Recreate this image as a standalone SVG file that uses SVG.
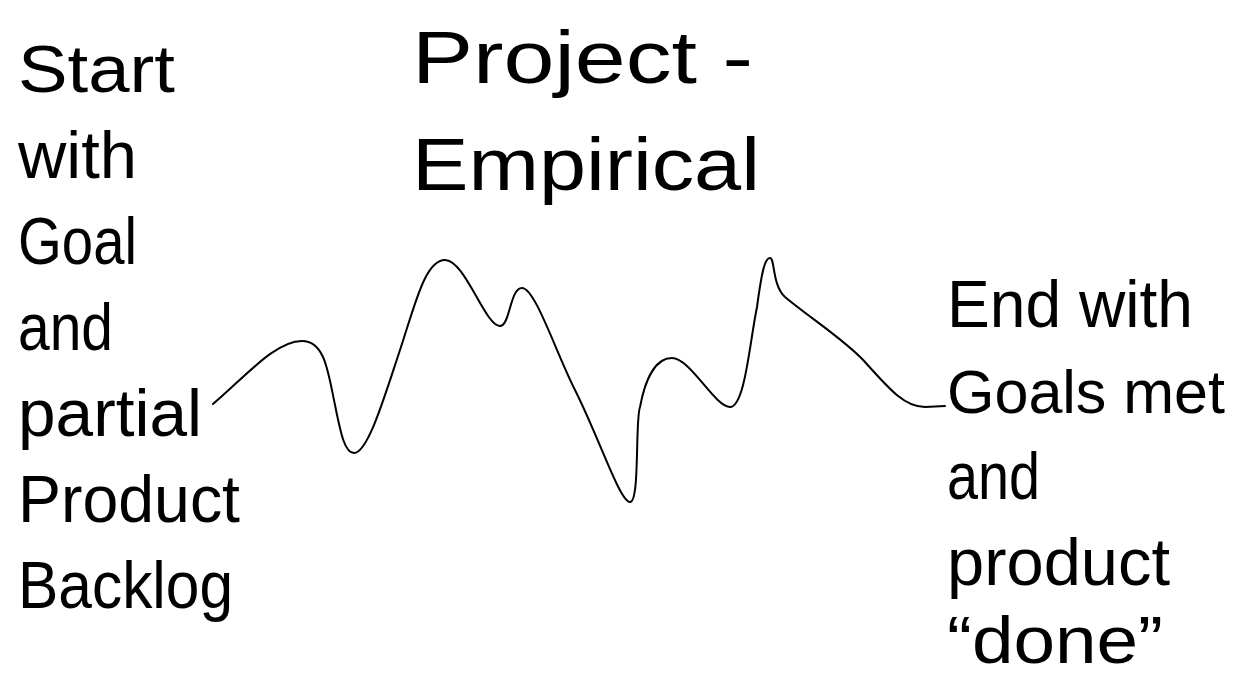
<svg xmlns="http://www.w3.org/2000/svg" width="1238" height="677" viewBox="0 0 1238 677">
<style>
text{font-family:'Liberation Sans',Arial,sans-serif;fill:#000}
.side{font-size:66px}
.title{font-size:75px}
.curve{fill:none;stroke:#000;stroke-width:2;stroke-linecap:round;stroke-linejoin:round}
</style>
<rect width="1238" height="677" fill="#fff"/>
<g id="title">
<text class="title" x="412" y="83" textLength="341" lengthAdjust="spacingAndGlyphs">Project -</text>
<text class="title" x="412" y="190" textLength="348" lengthAdjust="spacingAndGlyphs">Empirical</text>
</g>
<g id="start">
<text class="side" x="18" y="92" textLength="157" lengthAdjust="spacingAndGlyphs">Start</text>
<text class="side" x="18" y="178" textLength="119" lengthAdjust="spacingAndGlyphs">with</text>
<text class="side" x="18" y="264" textLength="119" lengthAdjust="spacingAndGlyphs">Goal</text>
<text class="side" x="18" y="350" textLength="95" lengthAdjust="spacingAndGlyphs">and</text>
<text class="side" x="18" y="436" textLength="184" lengthAdjust="spacingAndGlyphs">partial</text>
<text class="side" x="18" y="522" textLength="222" lengthAdjust="spacingAndGlyphs">Product</text>
<text class="side" x="18" y="608" textLength="215" lengthAdjust="spacingAndGlyphs">Backlog</text>
</g>
<g id="end">
<text class="side" x="947" y="327" textLength="246" lengthAdjust="spacingAndGlyphs">End with</text>
<text class="side" x="947" y="413" style="font-size:62px" textLength="278" lengthAdjust="spacingAndGlyphs">Goals met</text>
<text class="side" x="947" y="499" textLength="93" lengthAdjust="spacingAndGlyphs">and</text>
<text class="side" x="947" y="585" textLength="223" lengthAdjust="spacingAndGlyphs">product</text>
<text class="side" x="947" y="663" textLength="216" lengthAdjust="spacingAndGlyphs">“done”</text>
</g>
<g id="connectors">
<path class="curve" d="M213,404 C245,377 275,341 302,341 C325,341 328,372 335,405 C341,435 345,453 354,453 C368,453 385,395 400,350 C415,305 425,260 445,260 C465,260 485,326 500,326 C510,326 510,288 522,288 C535,288 555,350 575,390 C600,440 620,502 630,502 C640,502 635,420 640,407 C645,380 655,358 672,358 C690,358 715,407 730,407 C745,407 750,340 757,307 C762,270 765,258 770,258 C775,258 772,285 785,297 C810,318 845,340 865,362 C890,390 905,407 925,407 L945,406"/>
</g>
</svg>
